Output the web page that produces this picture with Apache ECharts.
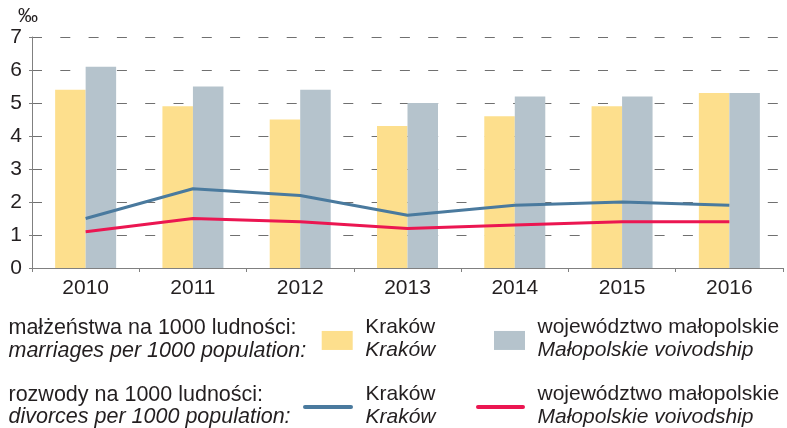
<!DOCTYPE html>
<html>
<head>
<meta charset="utf-8">
<script src="https://cdn.jsdelivr.net/npm/echarts@6/dist/echarts.min.js"></script>
<style>
html,body{margin:0;padding:0;background:#fff;}
#chart{width:787px;height:428px;}
</style>
</head>
<body>
<div id="chart"></div>
<script>
// ---- data ----
const years = ['2010', '2011', '2012', '2013', '2014', '2015', '2016'];
const marriagesKrakow = [5.4, 4.9, 4.5, 4.3, 4.6, 4.9, 5.3];
const marriagesMalopolskie = [6.1, 5.5, 5.4, 5.0, 5.2, 5.2, 5.3];
const divorcesKrakow = [1.5, 2.4, 2.2, 1.6, 1.9, 2.0, 1.9];
const divorcesMalopolskie = [1.1, 1.5, 1.4, 1.2, 1.3, 1.4, 1.4];
const yTicks = { min: 0, max: 7, interval: 1 };
const unitLabel = '‰';
const groupLabels = [
  ['małżeństwa na 1000 ludności:', 'marriages per 1000 population:'],
  ['rozwody na 1000 ludności:', 'divorces per 1000 population:']
];
const seriesNames = ['mKrakow', 'mMalopolskie', 'dKrakow', 'dMalopolskie'];
const seriesLabels = {
  mKrakow: ['Kraków', 'Kraków'],
  mMalopolskie: ['województwo małopolskie', 'Małopolskie voivodship'],
  dKrakow: ['Kraków', 'Kraków'],
  dMalopolskie: ['województwo małopolskie', 'Małopolskie voivodship']
};

const FONT = "'Liberation Sans', Arial, sans-serif";
const TXT = '#231f20';
const C_YEL = '#fddf8d';
const C_GRY = '#b5c3cc';
const C_BLU = '#4a7a9e';
const C_RED = '#eb1651';

const chart = echarts.init(document.getElementById('chart'), null, { renderer: 'canvas' });

const legendRich = {
  a: { fontSize: 21, fontFamily: FONT, color: TXT, lineHeight: 22.5 },
  b: { fontSize: 21, fontFamily: FONT, color: TXT, lineHeight: 22.5, fontStyle: 'italic' }
};
function legendFmt(name) {
  const l = seriesLabels[name];
  return '{a|' + l[0] + '}\n{b|' + l[1] + '}';
}
const lineIcon = 'path://M2,0 L48,0 A2,2 0 0 1 48,4 L2,4 A2,2 0 0 1 2,0 Z';
function mkLegend(name, left, top, w, h, icon) {
  return {
    show: true,
    left: left, top: top, padding: 0,
    orient: 'horizontal',
    itemWidth: w, itemHeight: h,
    selectedMode: false,
    data: [icon ? { name: name, icon: icon } : { name: name, icon: 'rect' }],
    formatter: legendFmt,
    textStyle: { rich: legendRich, padding: [0, 0, 3, 7.5], fontFamily: FONT, fontSize: 21 }
  };
}

const groupText = [];
const groupYs = [[328.3, 350.8], [395.5, 417.5]];
groupLabels.forEach((g, gi) => {
  g.forEach((t, li) => {
    groupText.push({
      type: 'text',
      x: 8.5, y: groupYs[gi][li],
      style: {
        text: t,
        font: (li === 1 ? 'italic ' : '') + '21.5px ' + FONT,
        fill: TXT,
        verticalAlign: 'middle',
        align: 'left'
      }
    });
  });
});

chart.setOption({
  animation: false,
  backgroundColor: '#fff',
  grid: { left: 32, right: 4, top: 37, bottom: 160, containLabel: false },
  xAxis: {
    type: 'category',
    data: years,
    axisLine: { lineStyle: { color: '#808080', width: 1 } },
    axisTick: { show: true, length: 4, lineStyle: { color: '#808080' } },
    axisLabel: { fontSize: 21, fontFamily: FONT, color: TXT, margin: 10 },
    splitLine: { show: false }
  },
  yAxis: {
    type: 'value',
    min: yTicks.min, max: yTicks.max, interval: yTicks.interval,
    name: unitLabel,
    nameLocation: 'end',
    nameGap: 18,
    nameTextStyle: { fontSize: 20, fontFamily: FONT, color: TXT, align: 'center', verticalAlign: 'middle', padding: [0, 8, 0, 0] },
    axisLine: { show: true, lineStyle: { color: '#808080', width: 1 } },
    axisTick: { show: true, length: 3, lineStyle: { color: '#808080' } },
    axisLabel: { fontSize: 21, fontFamily: FONT, color: TXT, margin: 10 },
    splitLine: { show: true, lineStyle: { color: '#707070', width: 1, type: [10, 18.3] } }
  },
  legend: [
    mkLegend('mKrakow', 321.7, 317.2, 31, 19),
    mkLegend('mMalopolskie', 494, 317.2, 31, 19),
    mkLegend('dKrakow', 303, 383.7, 50, 4, lineIcon),
    mkLegend('dMalopolskie', 476, 383.7, 49, 4, lineIcon)
  ],
  graphic: groupText,
  series: [
    { name: 'mKrakow', type: 'bar', data: marriagesKrakow, barWidth: 30.5, barGap: '0%', itemStyle: { color: C_YEL }, z: 1 },
    { name: 'mMalopolskie', type: 'bar', data: marriagesMalopolskie, barWidth: 30.5, barGap: '0%', itemStyle: { color: C_GRY }, z: 1 },
    { name: 'dKrakow', type: 'line', data: divorcesKrakow, symbol: 'none', smooth: false, lineStyle: { color: C_BLU, width: 3 }, itemStyle: { color: C_BLU }, z: 3 },
    { name: 'dMalopolskie', type: 'line', data: divorcesMalopolskie, symbol: 'none', smooth: false, lineStyle: { color: C_RED, width: 3 }, itemStyle: { color: C_RED }, z: 3 }
  ]
});
</script>
</body>
</html>
